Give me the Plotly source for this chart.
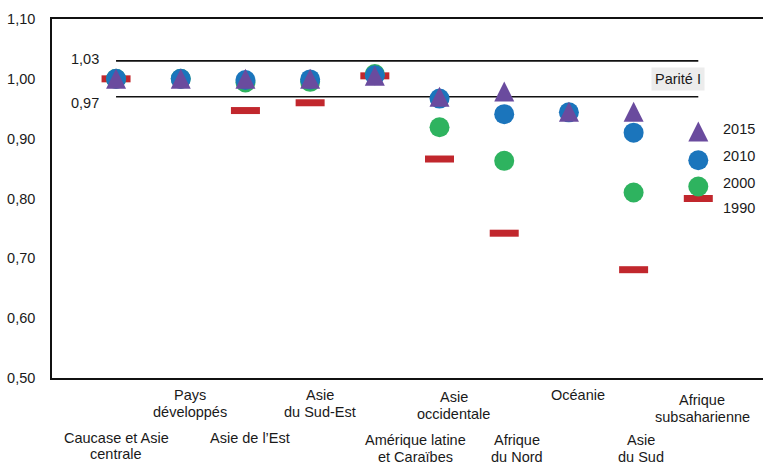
import plotly.graph_objects as go

# ---------------- data ----------------
categories = [
    "Caucase et Asie<br>centrale", "Pays<br>développés", "Asie de l’Est",
    "Asie<br>du Sud-Est", "Amérique latine<br>et Caraïbes", "Asie<br>occidentale",
    "Afrique<br>du Nord", "Océanie", "Asie<br>du Sud", "Afrique<br>subsaharienne",
]
gpi_1990 = [1.000, None, 0.947, 0.960, 1.005, 0.866, 0.742, None, 0.681, 0.800]
gpi_2000 = [1.000, 1.000, 0.994, 0.995, 1.008, 0.919, 0.863, None, 0.810, 0.820]
gpi_2010 = [1.000, 1.000, 0.998, 0.999, 1.006, 0.967, 0.941, 0.944, 0.910, 0.864]
gpi_2015 = [1.000, 1.000, 1.000, 1.000, 1.005, 0.970, 0.979, 0.945, 0.945, 0.912]
years = ["2015", "2010", "2000", "1990"]

y_ticks = [0.50, 0.60, 0.70, 0.80, 0.90, 1.00, 1.10]
y_tick_labels = ["0,50", "0,60", "0,70", "0,80", "0,90", "1,00", "1,10"]
parity_bounds = [1.03, 0.97]
parity_labels = ["1,03", "0,97"]
parity_text = "Parité I"

# ---------------- layout constants ----------------
W, H = 763, 465
M_L, M_R, M_T, M_B = 52, 0, 19, 87
PLOT_H = H - M_T - M_B
Y_RANGE = [0.50, 1.10]
X_RANGE = [-0.99, 10.0]
FONT = "Liberation Sans, Arial, Helvetica, sans-serif"
TXT = "#1a1a1a"
C_1990, C_2000, C_2010, C_2015 = "#c1272d", "#2eb35f", "#1b75bc", "#6a4b9e"
TRI_SIZE = 20
CIRC_SIZE = 20
DASH_LEN = 29

# label placement (pixels)
label_dx = [0, 9, 4.5, 10, 41, 14, 13, 9.5, 7, 4]
label_top_py = [438, 395, 438, 395, 440, 397, 440, 395, 440, 400]
LINE_STEP = 16.5
legend_py = [129.3, 156, 183.3, 207.7]

x_idx = list(range(len(categories)))
plot_bottom_px = H - M_B


def paper_y(py):
    return (plot_bottom_px - py) / PLOT_H


fig = go.Figure()
fig.add_trace(go.Scatter(
    x=x_idx, y=gpi_1990, mode="markers", name="1990", hoverinfo="skip",
    marker=dict(symbol="line-ew", size=DASH_LEN / 1.4, line=dict(color=C_1990, width=7)),
))
fig.add_trace(go.Scatter(
    x=x_idx, y=gpi_2000, mode="markers", name="2000", hoverinfo="skip",
    marker=dict(symbol="circle", size=CIRC_SIZE, color=C_2000, line=dict(width=0)),
))
fig.add_trace(go.Scatter(
    x=x_idx, y=gpi_2010, mode="markers", name="2010", hoverinfo="skip",
    marker=dict(symbol="circle", size=CIRC_SIZE, color=C_2010, line=dict(width=0)),
))
# triangles drawn with 'arrow-up' (tip at the point) on an axis shifted by half a marker
fig.add_trace(go.Scatter(
    x=x_idx, y=gpi_2015, mode="markers", name="2015", hoverinfo="skip", yaxis="y2",
    marker=dict(symbol="arrow-up", size=TRI_SIZE, color=C_2015, line=dict(width=0)),
))

shift = (TRI_SIZE / 2) / PLOT_H * (Y_RANGE[1] - Y_RANGE[0])

shapes = []
for b in parity_bounds:
    shapes.append(dict(type="line", xref="x", yref="y", x0=0, x1=len(categories) - 1,
                       y0=b, y1=b, line=dict(color="#111", width=1.6), layer="below"))

annotations = []
for b, lab, ys in zip(parity_bounds, parity_labels, [2, -6]):
    annotations.append(dict(x=0, y=b, xref="x", yref="y", text=lab, showarrow=False,
                            xanchor="right", yanchor="middle", xshift=-15, yshift=ys,
                            font=dict(size=14.5, color=TXT, family=FONT)))
annotations.append(dict(x=len(categories) - 1, y=1.0, xref="x", yref="y", text=parity_text,
                        showarrow=False, xanchor="right", yanchor="middle", xshift=7,
                        bgcolor="#ececec", borderpad=3,
                        font=dict(size=14.5, color=TXT, family=FONT)))
for yr, py in zip(years, legend_py):
    annotations.append(dict(x=len(categories) - 1, y=paper_y(py), xref="x", yref="paper",
                            text=yr, showarrow=False, xanchor="left", yanchor="middle",
                            xshift=23, font=dict(size=14.5, color=TXT, family=FONT)))
for i, lab in enumerate(categories):
    for j, line in enumerate(lab.split("<br>")):
        annotations.append(dict(x=i, y=paper_y(label_top_py[i] + j * LINE_STEP),
                                xref="x", yref="paper", text=line, showarrow=False,
                                xanchor="center", yanchor="middle", xshift=label_dx[i],
                                borderpad=0,
                                font=dict(size=14.5, color=TXT, family=FONT)))

fig.update_layout(
    width=W, height=H, autosize=False,
    margin=dict(l=M_L, r=M_R, t=M_T, b=M_B, pad=0),
    paper_bgcolor="white", plot_bgcolor="white",
    showlegend=False,
    font=dict(family=FONT, color=TXT, size=14.5),
    xaxis=dict(range=X_RANGE, showgrid=False, zeroline=False, showticklabels=False,
               ticks="", showline=True, mirror=True, linecolor="#111", linewidth=1.6),
    yaxis=dict(range=Y_RANGE, tickvals=y_ticks, ticktext=y_tick_labels, showgrid=False,
               zeroline=False, ticks="", showline=True, linecolor="#111", linewidth=1.6,
               ticklabelstandoff=12, tickfont=dict(size=14.5, color=TXT, family=FONT)),
    yaxis2=dict(range=[Y_RANGE[0] - shift, Y_RANGE[1] - shift], overlaying="y",
                anchor="x", visible=False, showgrid=False, zeroline=False),
    shapes=shapes,
    annotations=annotations,
)

fig.write_html("out.html", config={"displayModeBar": False},
               post_script="document.body.style.margin='0px';")
